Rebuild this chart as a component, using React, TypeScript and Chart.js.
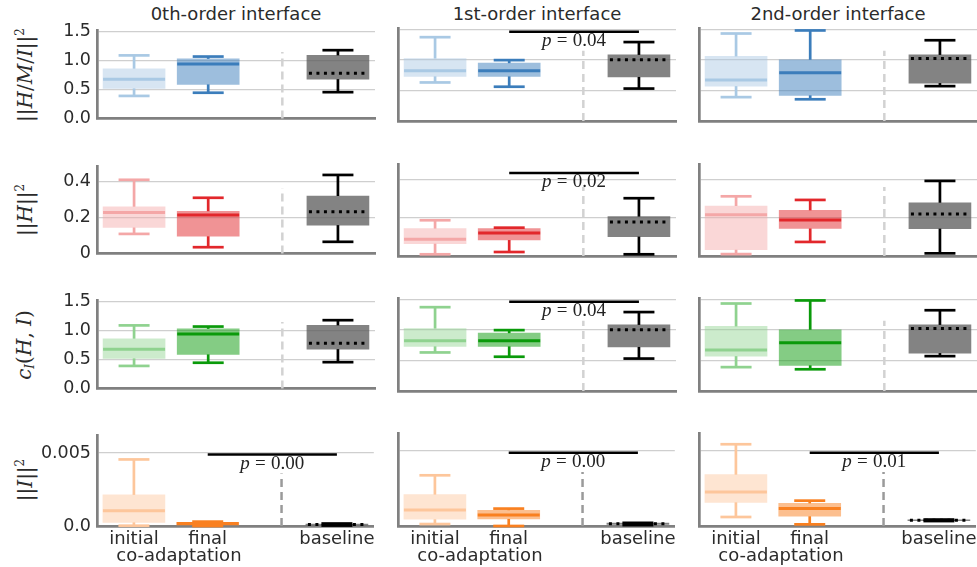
import React, { useEffect, useRef } from "react";
import { Chart, registerables } from "chart.js";

Chart.register(...registerables);

// ---------- categories / labels ----------
const GROUPS = ["initial", "final", "baseline"];
const GROUP_X = [0, 1, 2.75];
const SEPARATOR_X = 2;
const X_MIN = -0.5;
const X_MAX = 3.25;
const CO_ADAPT_LABEL = "co-adaptation";
const CO_ADAPT_X = 0.61;
const COLUMN_TITLES = ["0th-order interface", "1st-order interface", "2nd-order interface"];

// ---------- data: [whiskerLow, q1, median, q3, whiskerHigh] for initial, final, baseline ----------
// row 1: ||H/M/I||^2
const hmi0th = [[0.39, 0.52, 0.68, 0.86, 1.09], [0.445, 0.59, 0.94, 1.03, 1.07], [0.455, 0.68, 1.0, 1.09, 1.18]];
const hmi1st = [[0.63, 0.73, 0.82, 1.02, 1.37], [0.56, 0.73, 0.82, 0.945, 0.995], [0.53, 0.72, 1.0, 1.08, 1.29]];
const hmi2nd = [[0.39, 0.57, 0.67, 1.055, 1.43], [0.355, 0.42, 0.79, 1.0, 1.48], [0.57, 0.62, 1.02, 1.08, 1.32]];
const hmiBaselineMean = [0.78, 1.0, 1.02];
const hmiPValues = ["", "0.04", ""];
const hmiSigLevel = [0, 1.46, 0];
const hmiTicks = [0, 0.5, 1.0, 1.5];
const hmiTickLabels = ["0.0", "0.5", "1.0", "1.5"];

// row 2: ||H||^2
const h0th = [[0.109, 0.145, 0.228, 0.26, 0.41], [0.035, 0.096, 0.214, 0.235, 0.31], [0.065, 0.158, 0.23, 0.32, 0.437]];
const h1st = [[0.009, 0.065, 0.088, 0.144, 0.188], [0.021, 0.084, 0.121, 0.144, 0.149], [0.009, 0.102, 0.18, 0.207, 0.304]];
const h2nd = [[0.01, 0.033, 0.217, 0.263, 0.314], [0.074, 0.145, 0.189, 0.24, 0.295], [0.014, 0.144, 0.22, 0.28, 0.395]];
const hBaselineMean = [0.232, 0.179, 0.221];
const hPValues = ["", "0.02", ""];
const hSigLevel = [0, 0.437, 0];
const hTicks = [0, 0.2, 0.4];
const hTickLabels = ["0", "0.2", "0.4"];

// row 3: c_I(H, I)
const ci0th = [[0.39, 0.52, 0.68, 0.86, 1.09], [0.445, 0.59, 0.94, 1.03, 1.07], [0.455, 0.68, 1.0, 1.09, 1.18]];
const ci1st = [[0.63, 0.73, 0.82, 1.02, 1.37], [0.56, 0.73, 0.82, 0.945, 0.995], [0.53, 0.72, 1.0, 1.08, 1.29]];
const ci2nd = [[0.39, 0.57, 0.67, 1.055, 1.43], [0.355, 0.42, 0.79, 1.0, 1.48], [0.57, 0.62, 1.02, 1.08, 1.32]];
const ciBaselineMean = [0.78, 1.0, 1.02];
const ciPValues = ["", "0.04", ""];
const ciSigLevel = [0, 1.46, 0];
const ciTicks = [0, 0.5, 1.0, 1.5];
const ciTickLabels = ["0.0", "0.5", "1.0", "1.5"];

// row 4: ||I||^2
const i0th = [[0.00002, 0.00025, 0.00105, 0.00213, 0.00456], [0.0, 0.00005, 0.00017, 0.00025, 0.0003], [0.00003, 0.00006, 0.0001, 0.00014, 0.00017]];
const i1st = [[0.00013, 0.00045, 0.00107, 0.00209, 0.00338], [0.0, 0.00047, 0.00073, 0.00105, 0.00116], [0.00006, 0.0001, 0.00015, 0.00019, 0.00021]];
const i2nd = [[0.0006, 0.00158, 0.00227, 0.00342, 0.00545], [0.00011, 0.00065, 0.00116, 0.00151, 0.00169], [0.00033, 0.00035, 0.00038, 0.00041, 0.00043]];
const iBaselineMean = [0.00011, 0.00015, 0.00038];
const iPValues = ["0.00", "0.00", "0.01"];
const iSigLevel = [0.00489, 0.00489, 0.00489];
const iTicks = [0, 0.005];
const iTickLabels = ["0.0", "0.005"];

// ---------- styles ----------
const SANS = '"DejaVu Sans", sans-serif';
const SERIF = '"Liberation Serif", "DejaVu Serif", serif';
const LABEL_SERIF = '"DejaVu Serif", serif';
const TEXT = "#2b2b2b";
const SPINE = "#808080";
const GRID = "#cfcfcf";
const BASE_FILL = "rgba(90,90,90,0.75)";

const ROWS = [
  {
    stats: [hmi0th, hmi1st, hmi2nd], means: hmiBaselineMean, pvals: hmiPValues, sig: hmiSigLevel,
    ticks: hmiTicks, tickLabels: hmiTickLabels, yMax: 1.52, dashTop: 1.15, dashColor: "#d2d2d2",
    lines: ["#a9c9e4", "#3b7dbb", "#000000"],
    fills: ["rgba(166,198,226,0.45)", "rgba(59,125,187,0.5)", BASE_FILL],
  },
  {
    stats: [h0th, h1st, h2nd], means: hBaselineMean, pvals: hPValues, sig: hSigLevel,
    ticks: hTicks, tickLabels: hTickLabels, yMax: 0.484, dashTop: 0.363, dashColor: "#d2d2d2",
    lines: ["#f4a7a7", "#e2272b", "#000000"],
    fills: ["rgba(244,167,167,0.45)", "rgba(226,39,43,0.5)", BASE_FILL],
  },
  {
    stats: [ci0th, ci1st, ci2nd], means: ciBaselineMean, pvals: ciPValues, sig: ciSigLevel,
    ticks: ciTicks, tickLabels: ciTickLabels, yMax: 1.52, dashTop: 1.15, dashColor: "#d2d2d2",
    lines: ["#8fd28f", "#0a9a0a", "#000000"],
    fills: ["rgba(143,210,143,0.45)", "rgba(10,154,10,0.5)", BASE_FILL],
  },
  {
    stats: [i0th, i1st, i2nd], means: iBaselineMean, pvals: iPValues, sig: iSigLevel,
    ticks: iTicks, tickLabels: iTickLabels, yMax: 0.0062, dashTop: 0.0036, dashColor: "#9a9a9a",
    lines: ["#fdc69b", "#f98020", "#000000"],
    fills: ["rgba(253,198,155,0.45)", "rgba(249,128,32,0.5)", BASE_FILL],
  },
];

// ---------- layout ----------
const COL_LEFT = [97, 398, 699];
const PLOT_W = 278;
const ROW_TOP = [28, 164, 298, 433];
const ROW_BOTTOM = [121, 256, 391, 526];
const Y_AXIS_W = 70;
const PAD_TOP = 14;
const PAD_RIGHT = 3;
const P_FONT = 19;

const boxExtras = {
  id: "boxExtras",
  afterDatasetsDraw(chart: any, _args: any, o: any) {
    const { ctx } = chart;
    const x = chart.scales.x;
    const y = chart.scales.y;
    const meta = chart.getDatasetMeta(0);
    const seg = (x1: number, y1: number, x2: number, y2: number) => {
      ctx.beginPath();
      ctx.moveTo(x1, y1);
      ctx.lineTo(x2, y2);
      ctx.stroke();
    };
    ctx.save();
    ctx.lineCap = "butt";
    // separator
    const sx = x.getPixelForValue(SEPARATOR_X);
    ctx.strokeStyle = o.dashColor;
    ctx.lineWidth = 2.5;
    ctx.setLineDash([8, 5]);
    seg(sx, y.getPixelForValue(0), sx, y.getPixelForValue(o.dashTop));
    ctx.setLineDash([]);

    o.stats.forEach((s: number[], i: number) => {
      const el = meta.data[i];
      const cx = el.x;
      const half = el.width / 2;
      ctx.strokeStyle = o.lines[i];
      ctx.lineWidth = 2.7;
      const pLow = y.getPixelForValue(s[0]);
      const pQ1 = y.getPixelForValue(s[1]);
      const pQ3 = y.getPixelForValue(s[3]);
      const pHigh = y.getPixelForValue(s[4]);
      seg(cx, pQ3, cx, pHigh);
      seg(cx, pQ1, cx, pLow);
      seg(cx - half / 2, pHigh, cx + half / 2, pHigh);
      seg(cx - half / 2, pLow, cx + half / 2, pLow);
      if (i < 2) {
        ctx.lineWidth = 3;
        const pm = y.getPixelForValue(s[2]);
        seg(cx - half, pm, cx + half, pm);
      } else {
        ctx.strokeStyle = "#000";
        ctx.lineWidth = 3;
        ctx.setLineDash([3, 4.5]);
        ctx.lineDashOffset = -2;
        const pm = y.getPixelForValue(o.mean);
        seg(cx - half, pm, cx + half, pm);
        ctx.setLineDash([]);
      }
    });

    if (o.p) {
      const x1 = x.getPixelForValue(GROUP_X[1]);
      const x2 = x.getPixelForValue(GROUP_X[2]);
      const py = y.getPixelForValue(o.sig);
      ctx.strokeStyle = "#000";
      ctx.lineWidth = 2.5;
      seg(x1, py, x2, py);
      const mid = (x1 + x2) / 2;
      ctx.fillStyle = "#222";
      ctx.textBaseline = "alphabetic";
      ctx.textAlign = "left";
      ctx.font = `italic ${P_FONT}px ${SERIF}`;
      const wp = ctx.measureText("p").width;
      ctx.font = `${P_FONT}px ${SERIF}`;
      const eq = "=";
      const val = o.p;
      const gap = P_FONT * 0.28;
      const we = ctx.measureText(eq).width;
      const wv = ctx.measureText(val).width;
      const total = wp + gap + we + gap + wv;
      let cx = mid - total / 2;
      const by = py + 14;
      ctx.font = `italic ${P_FONT}px ${SERIF}`;
      ctx.fillText("p", cx, by);
      cx += wp + gap;
      ctx.font = `${P_FONT}px ${SERIF}`;
      ctx.fillText(eq, cx, by);
      cx += we + gap;
      ctx.fillText(val, cx, by);
    }

    if (o.groupLabel) {
      ctx.fillStyle = TEXT;
      ctx.font = `18px ${SANS}`;
      ctx.textAlign = "center";
      ctx.textBaseline = "alphabetic";
      ctx.fillText(CO_ADAPT_LABEL, x.getPixelForValue(CO_ADAPT_X), chart.chartArea.bottom + 35);
    }
    ctx.restore();
  },
};

function Panel({ row, col }: { row: number; col: number }) {
  const ref = useRef<HTMLCanvasElement>(null);
  const isBottom = row === ROWS.length - 1;
  const xh = isBottom ? 46 : 14;
  const width = Y_AXIS_W + PLOT_W + PAD_RIGHT;
  const height = PAD_TOP + (ROW_BOTTOM[row] - ROW_TOP[row]) + xh;
  const left = COL_LEFT[col] - Y_AXIS_W;
  const top = ROW_TOP[row] - PAD_TOP;

  useEffect(() => {
    const r = ROWS[row];
    const stats = r.stats[col];
    const chart = new Chart(ref.current as HTMLCanvasElement, {
      type: "bar",
      data: {
        datasets: [
          {
            data: stats.map((s, i) => ({ x: GROUP_X[i], y: [s[1], s[3]] })) as any,
            backgroundColor: r.fills,
            borderWidth: 0,
            barThickness: 62,
            grouped: false,
          } as any,
        ],
      },
      options: {
        responsive: false,
        animation: false,
        events: [],
        layout: { padding: { top: PAD_TOP, right: PAD_RIGHT, left: 0, bottom: 0 } },
        plugins: {
          legend: { display: false },
          tooltip: { enabled: false },
          boxExtras: {
            stats,
            lines: r.lines,
            mean: r.means[col],
            p: r.pvals[col],
            sig: r.sig[col],
            dashTop: r.dashTop,
            dashColor: r.dashColor,
            groupLabel: isBottom,
          },
        } as any,
        scales: {
          x: {
            type: "linear",
            offset: false,
            min: X_MIN,
            max: X_MAX,
            afterBuildTicks: (s: any) => {
              s.ticks = GROUP_X.map((v) => ({ value: v }));
            },
            afterFit: (s: any) => {
              s.height = xh;
            },
            grid: { display: false, drawTicks: false, offset: false },
            border: { color: SPINE, width: 2.7 },
            ticks: {
              display: isBottom,
              autoSkip: false,
              maxRotation: 0,
              padding: 3,
              color: TEXT,
              font: { family: SANS, size: 18 },
              callback: (v: any) => GROUPS[GROUP_X.indexOf(Number(v))] ?? "",
            },
          },
          y: {
            min: 0,
            max: r.yMax,
            afterBuildTicks: (s: any) => {
              s.ticks = r.ticks.map((v) => ({ value: v }));
            },
            afterFit: (s: any) => {
              s.width = Y_AXIS_W;
            },
            grid: {
              color: (c: any) => (c.tick && c.tick.value === 0 ? "rgba(0,0,0,0)" : GRID),
              lineWidth: 1.2,
              drawTicks: false,
            },
            border: { color: SPINE, width: 2.7 },
            ticks: {
              display: col === 0,
              padding: 6,
              color: TEXT,
              font: { family: SANS, size: 17.5 },
              callback: (_v: any, idx: number) => r.tickLabels[idx],
            },
          },
        } as any,
      },
      plugins: [boxExtras as any],
    });
    return () => chart.destroy();
  }, [row, col]);

  return (
    <canvas
      ref={ref}
      width={width}
      height={height}
      style={{ position: "absolute", left, top, width, height }}
    />
  );
}

const SUP = { fontSize: "0.6em", verticalAlign: "0.7em" } as const;
const SUB = { fontSize: "0.6em", verticalAlign: "-0.3em" } as const;

const rowLabels: React.ReactNode[] = [
  <span>||<i>H</i>/<i>M</i>/<i>I</i>||<span style={SUP}>2</span></span>,
  <span>||<i>H</i>||<span style={SUP}>2</span></span>,
  <span><i>c</i><span style={SUB}><i>I</i></span>(<i>H</i>, <i>I</i>)</span>,
  <span>||<i>I</i>||<span style={SUP}>2</span></span>,
];

export default function App() {
  return (
    <div
      style={{
        position: "absolute",
        left: 0,
        top: 0,
        width: 977,
        height: 567,
        overflow: "hidden",
        background: "#fff",
      }}
    >
      {COLUMN_TITLES.map((t, c) => (
        <div
          key={t}
          style={{
            position: "absolute",
            left: COL_LEFT[c],
            width: PLOT_W,
            top: 3,
            textAlign: "center",
            fontFamily: SANS,
            fontSize: 18,
            lineHeight: "21px",
            color: TEXT,
            whiteSpace: "nowrap",
          }}
        >
          {t}
        </div>
      ))}
      {rowLabels.map((lab, r) => (
        <div
          key={r}
          style={{
            position: "absolute",
            left: 25,
            top: (ROW_TOP[r] + ROW_BOTTOM[r]) / 2,
            transform: "translate(-50%, -50%) rotate(-90deg)",
            fontFamily: LABEL_SERIF,
            fontSize: 20,
            lineHeight: 1,
            color: TEXT,
            whiteSpace: "nowrap",
          }}
        >
          {lab}
        </div>
      ))}
      {ROWS.map((_, r) =>
        COLUMN_TITLES.map((__, c) => <Panel key={`${r}-${c}`} row={r} col={c} />)
      )}
    </div>
  );
}
